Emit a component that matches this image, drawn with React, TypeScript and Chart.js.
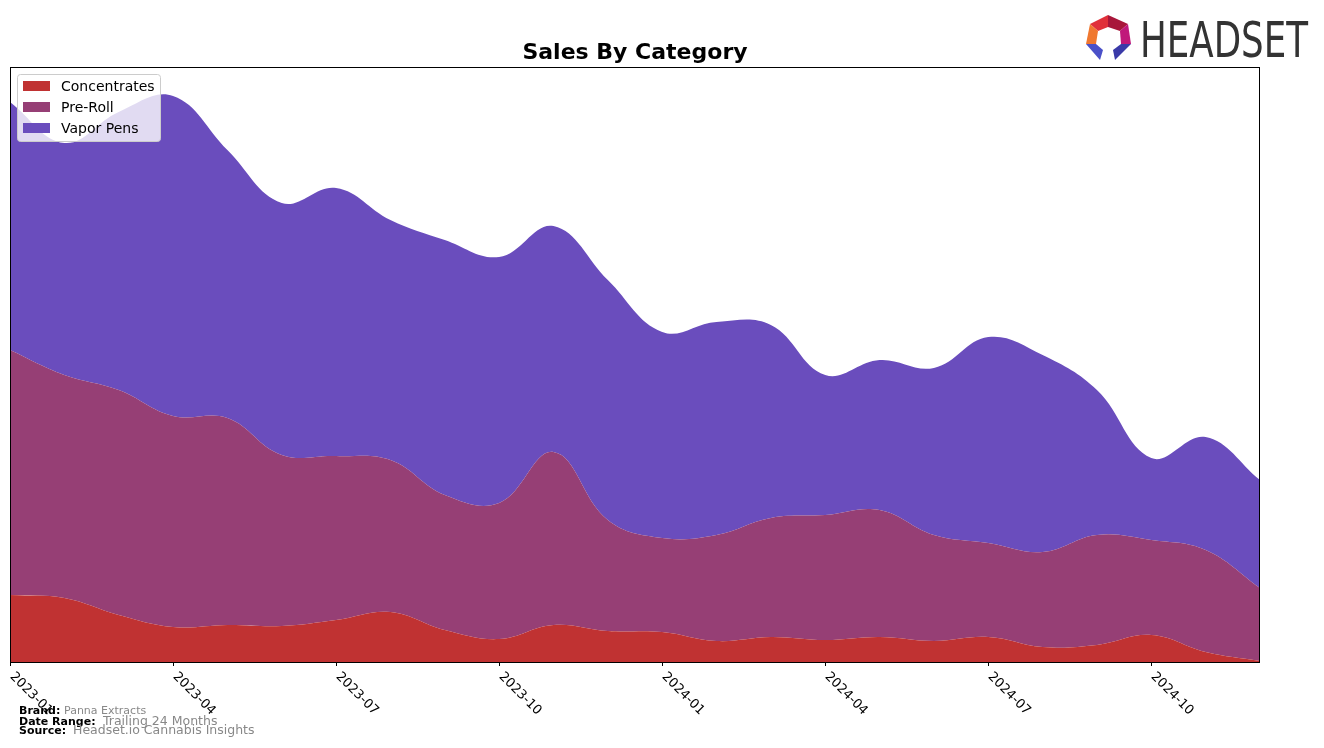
import React, { useEffect, useRef } from "react";
import { Chart, registerables } from "chart.js";

Chart.register(...registerables);

const months = [
  "2023-01","2023-02","2023-03","2023-04","2023-05","2023-06","2023-07","2023-08","2023-09","2023-10","2023-11","2023-12",
  "2024-01","2024-02","2024-03","2024-04","2024-05","2024-06","2024-07","2024-08","2024-09","2024-10","2024-11","2024-12",
];
const tickLabels = ["2023-01","2023-04","2023-07","2023-10","2024-01","2024-04","2024-07","2024-10"];

const concentrates = [67, 64, 47, 35, 37, 36, 42, 50, 32, 23, 37, 31, 30, 21, 25, 22, 25, 21, 25, 15, 17, 27, 10, 1];
const preRoll = [245, 223, 225, 211, 207, 171, 164, 152, 135, 136, 173, 111, 94, 106, 119, 125, 127, 106, 94, 95, 110, 95, 102, 73];
const vaporPens = [248, 232, 278, 320, 268, 252, 268, 240, 255, 246, 226, 240, 206, 213, 193, 140, 150, 167, 206, 197, 145, 82, 113, 108];

const seriesNames = ["Concentrates", "Pre-Roll", "Vapor Pens"];
const seriesColors = ["#C03232", "#963F75", "#6A4DBD"];

const W = 1324;
const H = 748;
const PLOT = { left: 10, top: 67, right: 1260, bottom: 662 };

const decorPlugin = {
  id: "decor",
  afterDatasetsDraw(chart: any) {
    const ctx: CanvasRenderingContext2D = chart.ctx;
    const area = chart.chartArea;
    const xs = chart.scales.x;
    ctx.save();

    // frame
    ctx.strokeStyle = "#000";
    ctx.lineWidth = 1;
    ctx.strokeRect(area.left + 0.5, area.top + 0.5, area.right - area.left - 1, area.bottom - area.top);

    // x ticks and labels
    ctx.fillStyle = "#000";
    ctx.font = '13px "DejaVu Sans"';
    ctx.textAlign = "left";
    ctx.textBaseline = "top";
    tickLabels.forEach((lab) => {
      const idx = months.indexOf(lab);
      const x = Math.round(xs.getPixelForValue(idx)) + 0.5;
      ctx.beginPath();
      ctx.moveTo(x, area.bottom);
      ctx.lineTo(x, area.bottom + 4);
      ctx.stroke();
      ctx.save();
      ctx.translate(x + 6, area.bottom + 8);
      ctx.rotate(Math.PI / 4);
      ctx.fillText(lab, 0, 0);
      ctx.restore();
    });

    // title
    ctx.font = 'bold 22px "DejaVu Sans"';
    ctx.textAlign = "center";
    ctx.textBaseline = "alphabetic";
    ctx.fillText("Sales By Category", (area.left + area.right) / 2, 59);

    // legend
    const lx = 17, ly = 74, lw = 143, lh = 67;
    ctx.fillStyle = "rgba(255,255,255,0.8)";
    ctx.strokeStyle = "#cccccc";
    ctx.beginPath();
    (ctx as any).roundRect(lx + 0.5, ly + 0.5, lw, lh, 3);
    ctx.fill();
    ctx.stroke();
    ctx.font = '14px "DejaVu Sans"';
    ctx.textAlign = "left";
    ctx.textBaseline = "middle";
    seriesNames.forEach((name, i) => {
      const cy = 86 + i * 21;
      ctx.fillStyle = seriesColors[i];
      ctx.fillRect(23, cy - 5, 27, 10);
      ctx.fillStyle = "#000";
      ctx.fillText(name, 61, cy + 1);
    });

    // footer
    const footer = [
      { label: "Brand:", value: "Panna Extracts", y: 711, vx: 64, vs: 11 },
      { label: "Date Range:", value: "Trailing 24 Months", y: 722, vx: 103, vs: 12.5 },
      { label: "Source:", value: "Headset.io Cannabis Insights", y: 731, vx: 73, vs: 12.5 },
    ];
    footer.forEach((f) => {
      ctx.font = 'bold 11px "DejaVu Sans"';
      ctx.fillStyle = "#000";
      ctx.fillText(f.label, 19, f.y);
      ctx.font = `${f.vs}px "DejaVu Sans"`;
      ctx.fillStyle = "#888888";
      ctx.fillText(f.value, f.vx, f.y);
    });

    // logo icon
    const poly = (pts: number[][], color: string) => {
      ctx.fillStyle = color;
      ctx.beginPath();
      ctx.moveTo(pts[0][0], pts[0][1]);
      for (let i = 1; i < pts.length; i++) ctx.lineTo(pts[i][0], pts[i][1]);
      ctx.closePath();
      ctx.fill();
    };
    poly([[1090, 24], [1108, 15], [1108, 27], [1098, 31]], "#E0303A");
    poly([[1108, 15], [1128, 24], [1120, 31], [1108, 27]], "#A8163A");
    poly([[1128, 24], [1131, 44], [1121, 44], [1120, 31]], "#C0187A");
    poly([[1090, 24], [1098, 31], [1096, 44], [1086, 44]], "#F07830");
    poly([[1086, 44], [1096, 44], [1103, 50], [1100, 60]], "#4A50C8");
    poly([[1121, 44], [1131, 44], [1115, 60], [1113, 50]], "#3A3AA8");

    // logo text
    ctx.fillStyle = "#333333";
    ctx.font = '50px "Liberation Sans Narrow", "DejaVu Sans Condensed", "Liberation Sans"';
    ctx.textAlign = "left";
    ctx.textBaseline = "alphabetic";
    const tw = ctx.measureText("HEADSET").width;
    ctx.save();
    ctx.translate(1140, 57);
    ctx.scale(168 / tw, 1);
    ctx.fillText("HEADSET", 0, 0);
    ctx.restore();

    ctx.restore();
  },
};

export default function App() {
  const ref = useRef<HTMLCanvasElement | null>(null);
  useEffect(() => {
    document.body.style.margin = "0";
    const canvas = ref.current!;
    const chart = new Chart(canvas, {
      type: "line",
      data: {
        labels: months,
        datasets: [concentrates, preRoll, vaporPens].map((d, i) => ({
          label: seriesNames[i],
          data: d,
          backgroundColor: seriesColors[i],
          borderColor: seriesColors[i],
          borderWidth: 0,
          pointRadius: 0,
          tension: 0.4,
          fill: i === 0 ? "origin" : "-1",
        })),
      },
      options: {
        responsive: false,
        animation: false,
        devicePixelRatio: 1,
        layout: {
          padding: {
            left: PLOT.left,
            top: PLOT.top,
            right: W - PLOT.right,
            bottom: H - PLOT.bottom,
          },
        },
        plugins: {
          legend: { display: false },
          title: { display: false },
          tooltip: { enabled: false },
        },
        scales: {
          x: { display: false, offset: false },
          y: { display: false, stacked: true, min: 0, max: 595 },
        },
      },
      plugins: [decorPlugin],
    });
    return () => chart.destroy();
  }, []);
  return (
    <div style={{ position: "fixed", left: 0, top: 0, width: W, height: H, background: "#fff" }}>
      <canvas ref={ref} width={W} height={H} style={{ width: W, height: H, display: "block" }} />
    </div>
  );
}
